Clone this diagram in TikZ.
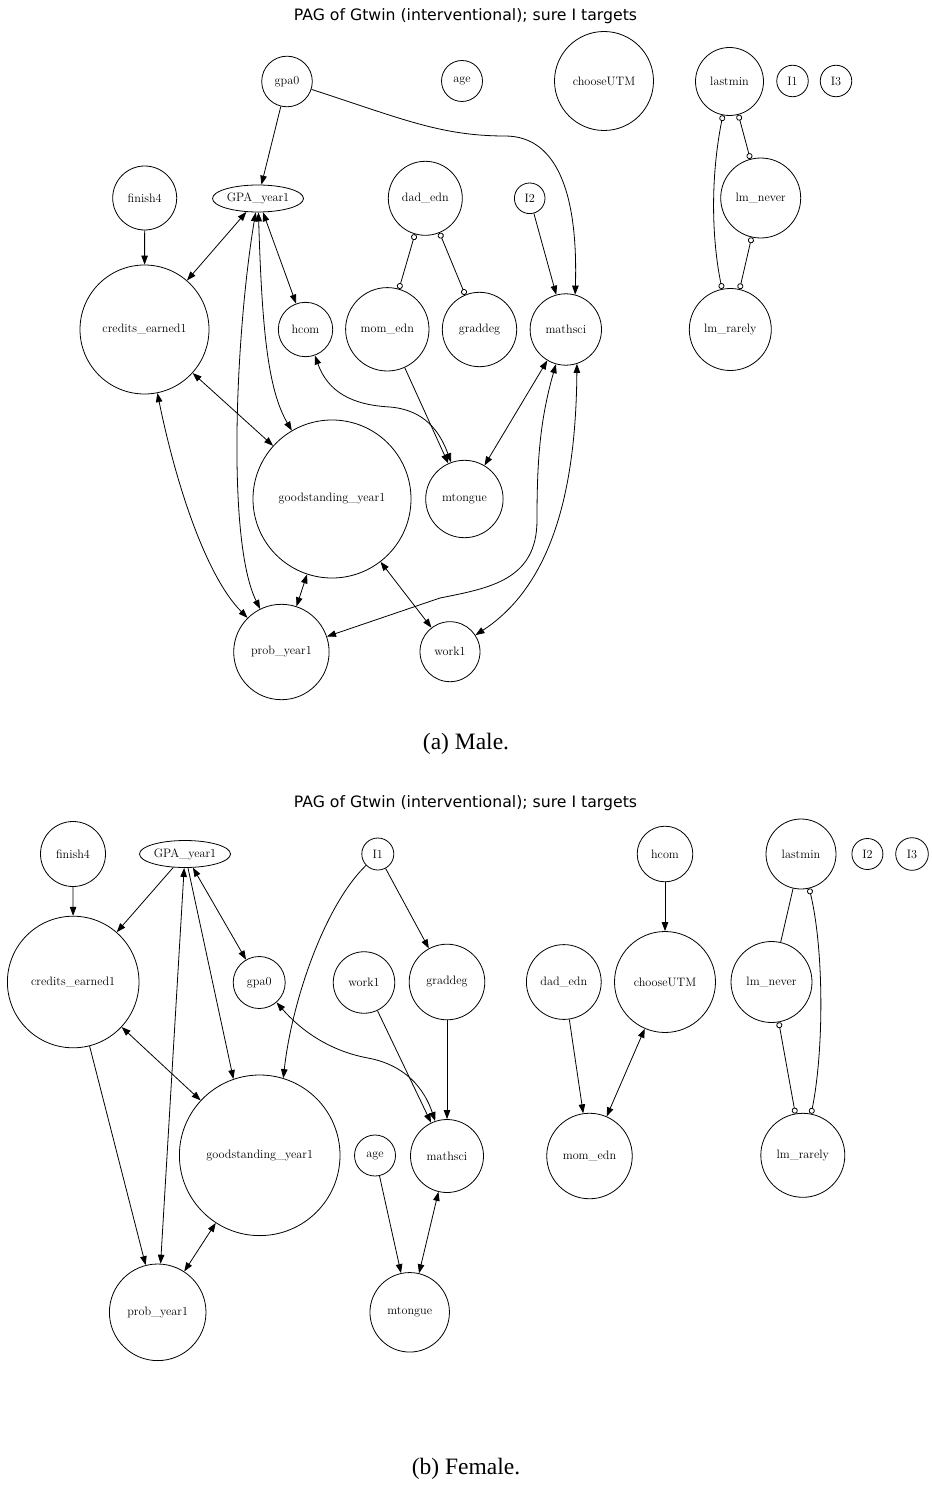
\documentclass[tikz,border=0pt]{standalone}
\usepackage{fontspec}
\newfontfamily\titlefont{DejaVu Sans}
\newfontfamily\capfont{Liberation Serif}
\usetikzlibrary{arrows.meta,shapes.geometric}
\begin{document}
\begin{tikzpicture}[x=1pt,y=1pt,
  v/.style={draw, circle, inner sep=0pt, line width=0.8pt, font=\fontsize{12.2}{14}\selectfont},
  ev/.style={draw, ellipse, inner sep=0pt, line width=0.8pt, minimum width=91pt, minimum height=27pt, font=\fontsize{12.2}{14}\selectfont},
  dia/.style={minimum size=#1},
  e/.style={line width=0.8pt},
  ar/.style={e, -{Triangle[length=9pt,width=6.5pt]}},
  ba/.style={e, {Triangle[length=9pt,width=6.5pt]}-{Triangle[length=9pt,width=6.5pt]}},
  oo/.style={e, {Circle[open,length=6pt,width=6pt]}-{Circle[open,length=6pt,width=6pt]}},
  ttl/.style={font=\titlefont\fontsize{15.7}{18}\selectfont},
  capt/.style={font=\capfont\fontsize{23.5}{28}\selectfont}
]
\fill[white] (0,0) rectangle (931,-1495);
\useasboundingbox (0,0) rectangle (931,-1495);

% ---------------- Male ----------------
\node[ttl] (t1) at (465.5,-16) {PAG of Gtwin (interventional); sure I targets};
\node[v,dia=50.6pt] (mgpa0) at (287,-81.5) {gpa0};
\node[v,dia=41pt] (mage) at (462,-81) {age};
\node[v,dia=99pt] (mchoose) at (604,-81) {chooseUTM};
\node[v,dia=68pt] (mlastmin) at (729.5,-81.5) {lastmin};
\node[v,dia=31.5pt] (mI1) at (792.5,-81) {I1};
\node[v,dia=31.5pt] (mI3) at (836,-81) {I3};
\node[v,dia=64pt] (mfinish4) at (144.7,-198) {finish4};
\node[ev] (mGPA) at (258,-198.5) {GPA\_year1};
\node[v,dia=74pt] (mdad) at (425.3,-198.3) {dad\_edn};
\node[v,dia=30.6pt] (mI2) at (529.7,-198.3) {I2};
\node[v,dia=80pt] (mlmnever) at (760.7,-198) {lm\_never};
\node[v,dia=129pt] (mcredits) at (144.5,-329.5) {credits\_earned1};
\node[v,dia=54.4pt] (mhcom) at (305.5,-329.5) {hcom};
\node[v,dia=83.4pt] (mmom) at (387.3,-329.3) {mom\_edn};
\node[v,dia=74.4pt] (mgraddeg) at (479.5,-329.5) {graddeg};
\node[v,dia=71.4pt] (mmathsci) at (565.8,-329.5) {mathsci};
\node[v,dia=82pt] (mlmrarely) at (730.3,-329.5) {lm\_rarely};
\node[v,dia=158pt] (mgood) at (332,-499) {goodstanding\_year1};
\node[v,dia=77.4pt] (mmtongue) at (464.4,-499) {mtongue};
\node[v,dia=95.4pt] (mprob) at (281.4,-652) {prob\_year1};
\node[v,dia=60pt] (mwork1) at (450,-651.7) {work1};
\node[capt] (c1) at (466,-744) {(a) Male.};

\draw[ar] (mgpa0) .. controls (400,-118) and (440,-136) .. (505,-136) .. controls (560,-136) and (578,-200) .. (mmathsci.75);
\draw[ar] (mgpa0) -- (mGPA);
\draw[ar] (mfinish4) -- (mcredits);
\draw[ba] (mGPA) -- (mcredits);
\draw[ba] (mGPA) -- (mhcom);
\draw[ba] (mGPA) .. controls (236,-330) and (226,-540) .. (mprob);
\draw[ba] (mGPA) .. controls (262,-330) and (268,-390) .. (mgood);
\draw[ba] (mcredits) -- (mgood);
\draw[ba] (mcredits) .. controls (175,-480) and (205,-575) .. (mprob);
\draw[ba] (mgood) -- (mprob);
\draw[ba] (mgood) -- (mwork1);
\draw[ba] (mhcom) .. controls (328,-392) and (352,-405) .. (390,-407) .. controls (425,-410) and (440,-432) .. (mmtongue);
\draw[ar] (mmom) -- (mmtongue);
\draw[ba] (mmathsci) -- (mmtongue);
\draw[ba] (mmathsci) .. controls (540,-420) and (537,-460) .. (537,-520) .. controls (537,-580) and (490,-588) .. (440,-598) -- (mprob);
\draw[ba] (mmathsci.-72) .. controls (576,-470) and (560,-580) .. (mwork1);
\draw[ar] (mI2) -- (mmathsci);
\draw[oo] (mdad) -- (mmom);
\draw[oo] (mdad) -- (mgraddeg);
\draw[oo] (mlastmin) -- (mlmnever);
\draw[oo] (mlastmin) .. controls (710,-180) and (712,-240) .. (mlmrarely);
\draw[oo] (mlmnever) -- (mlmrarely);

% ---------------- Female ----------------
\node[ttl] (t2) at (465.5,-803) {PAG of Gtwin (interventional); sure I targets};
\node[v,dia=65pt] (ffinish4) at (73,-854) {finish4};
\node[ev] (fGPA) at (185,-854) {GPA\_year1};
\node[v,dia=32pt] (fI1) at (377.8,-854) {I1};
\node[v,dia=55.6pt] (fhcom) at (665,-854) {hcom};
\node[v,dia=70pt] (flastmin) at (801,-854) {lastmin};
\node[v,dia=31pt] (fI2) at (867.4,-854) {I2};
\node[v,dia=32.6pt] (fI3) at (912,-854) {I3};
\node[v,dia=131.6pt] (fcredits) at (73.2,-982) {credits\_earned1};
\node[v,dia=52pt] (fgpa0) at (259.2,-982.5) {gpa0};
\node[v,dia=61.5pt] (fwork1) at (364,-982.5) {work1};
\node[v,dia=75.6pt] (fgraddeg) at (447,-982) {graddeg};
\node[v,dia=74.8pt] (fdad) at (563.8,-982) {dad\_edn};
\node[v,dia=101pt] (fchoose) at (665,-982) {chooseUTM};
\node[v,dia=81pt] (flmnever) at (771.5,-982) {lm\_never};
\node[v,dia=160.6pt] (fgood) at (259.7,-1155.3) {goodstanding\_year1};
\node[v,dia=41pt] (fage) at (375,-1155.5) {age};
\node[v,dia=73pt] (fmathsci) at (447,-1156) {mathsci};
\node[v,dia=85.5pt] (fmom) at (589.5,-1156) {mom\_edn};
\node[v,dia=84pt] (flmrarely) at (802.8,-1155.3) {lm\_rarely};
\node[v,dia=96.6pt] (fprob) at (157.7,-1312.3) {prob\_year1};
\node[v,dia=79.5pt] (fmtongue) at (409.7,-1312.3) {mtongue};
\node[capt] (c2) at (466,-1469) {(b) Female.};

\draw[ar] (ffinish4) -- (fcredits);
\draw[ar] (fGPA) -- (fcredits);
\draw[ba] (fGPA) -- (fprob);
\draw[ar] (fGPA) -- (fgood.109);
\draw[ba] (fGPA) -- (fgpa0);
\draw[ba] (fcredits) -- (fgood);
\draw[ar] (fcredits) -- (fprob);
\draw[ba] (fgood) -- (fprob);
\draw[ar] (fI1) .. controls (325,-905) and (292,-1000) .. (fgood.73);
\draw[ar] (fI1) -- (fgraddeg);
\draw[ba] (fgpa0) .. controls (305,-1035) and (335,-1052) .. (368,-1058) .. controls (405,-1065) and (424,-1088) .. (fmathsci);
\draw[ar] (fwork1) -- (fmathsci);
\draw[ar] (fgraddeg) -- (fmathsci);
\draw[ar] (fage) -- (fmtongue);
\draw[ba] (fmathsci) -- (fmtongue);
\draw[ar] (fhcom) -- (fchoose);
\draw[ar] (fdad) -- (fmom);
\draw[ba] (fchoose) -- (fmom);
\draw[e] (flastmin) -- (flmnever);
\draw[oo] (flastmin) .. controls (824,-950) and (824,-1050) .. (flmrarely);
\draw[oo] (flmnever) -- (flmrarely);
\end{tikzpicture}
\end{document}
